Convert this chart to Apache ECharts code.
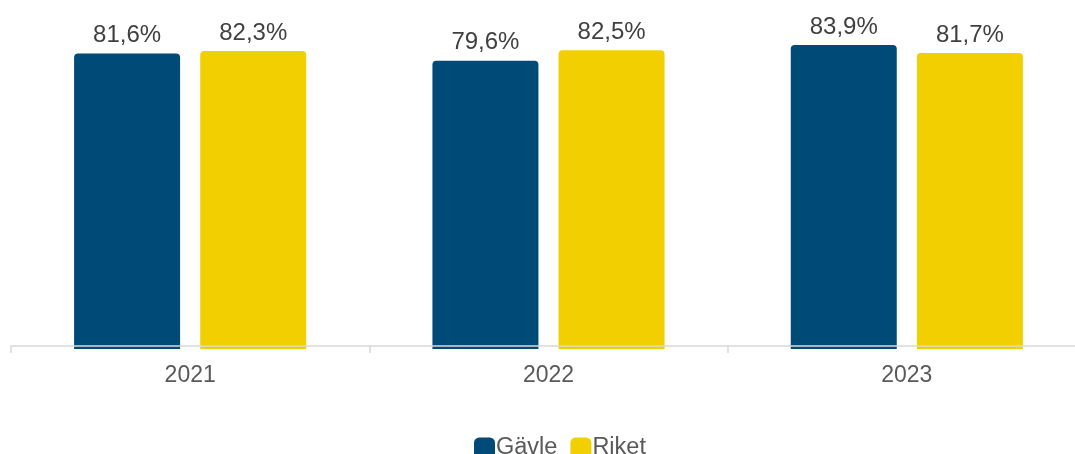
<!DOCTYPE html>
<html><head><meta charset="utf-8">
<script src="https://cdn.jsdelivr.net/npm/echarts@6/dist/echarts.min.js"></script>
<style>html,body{margin:0;padding:0;background:#fff;overflow:hidden}#c{width:1086px;height:454px}</style>
</head><body><div id="c"></div>
<script>
const categories = ['2021', '2022', '2023'];
const gavle = [81.6, 79.6, 83.9];
const riket = [82.3, 82.5, 81.7];
const seriesNames = ['Gävle', 'Riket'];

const chart = echarts.init(document.getElementById('c'));
const fmt = p => p.value.toFixed(1).replace('.', ',') + '%';
const labelCfg = {show: true, position: 'top', distance: 6, formatter: fmt,
  fontFamily: 'Liberation Sans, Arial', fontSize: 24, color: '#404040'};
chart.setOption({
  animation: false,
  grid: {left: 11, top: 23, right: 0, bottom: 105, containLabel: false},
  legend: {top: 436, left: 474, padding: 0, itemWidth: 21, itemHeight: 21, itemGap: 13,
    icon: 'roundRect',
    textStyle: {fontFamily: 'Liberation Sans, Arial', fontSize: 23.5, color: '#595959', padding: [0,0,0,-4]},
    data: seriesNames},
  xAxis: {type: 'category', data: categories, z: 5, offset: -3,
    axisLine: {lineStyle: {color: '#d9d9d9', width: 1.5}},
    axisTick: {show: true, length: 7, lineStyle: {color: '#d9d9d9', width: 1.5}},
    axisLabel: {fontFamily: 'Liberation Sans, Arial', fontSize: 23, color: '#595959', margin: 18}},
  yAxis: {type: 'value', min: 0, max: 90, show: false, splitLine: {show: false}},
  series: [
    {name: seriesNames[0], type: 'bar', data: gavle, barWidth: 106, barGap: '19%',
     itemStyle: {color: '#004A77', borderRadius: [4,4,0,0]}, label: labelCfg},
    {name: seriesNames[1], type: 'bar', data: riket, barWidth: 106,
     itemStyle: {color: '#F2CF00', borderRadius: [4,4,0,0]}, label: labelCfg}
  ]
});
</script></body></html>
